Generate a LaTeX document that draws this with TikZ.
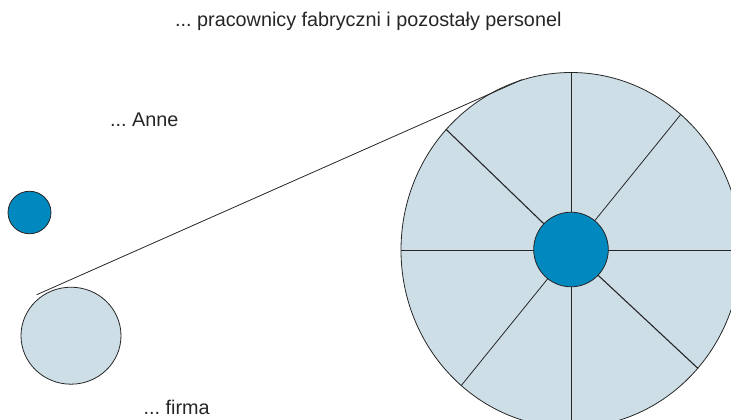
\documentclass[tikz,border=0pt]{standalone}
\usepackage{fontspec}
\setmainfont{Liberation Sans}
\usepackage{xcolor}
\usetikzlibrary{positioning, calc, shapes.geometric}
\definecolor{color0}{RGB}{0,137,191}
\definecolor{color1}{RGB}{206,222,231}
\frenchspacing

\begin{document}
\begin{tikzpicture}[x=1pt, y=-1pt]
	\tikzstyle{label}=[inner sep=0pt, anchor=base west, font=\fontsize{19.8}{23}\selectfont, text=black!85]
	\tikzstyle{disc}=[ellipse, draw=black!85, line width=0.8pt, inner sep=0pt]
	\tikzstyle{spoke}=[draw=black!85, line width=0.8pt]

	\useasboundingbox (0, 0) rectangle (731, 420);
	\clip (0, 0) rectangle (731, 420);

	\node[label] (title) at (175, 27) {... pracownicy fabryczni i pozostały personel};
	\node[label] (anne-label) at (110, 126) {... Anne};
	\node[label] (firma-label) at (143.5, 414) {... firma};

	\node[disc, fill=color0, minimum width=43pt, minimum height=42.5pt] (anne) at (29.5, 212.5) {};
	\node[disc, fill=color1, minimum width=100pt, minimum height=97pt] (firma) at (71, 335.7) {};

	\node[disc, fill=color1, minimum width=340pt, minimum height=355pt] (kolo) at (571, 250) {};
	\foreach \a/\w in {0/0.8, 51/0.8, 90/0.8, 136/1.1, 180/0.8, 231/0.8, 270/0.8, 317/1.1}{
		\draw[spoke, line width=\w pt] (kolo.center) -- (kolo.\a);
	}
	\node[disc, fill=color0, minimum size=74.6pt] (srodek) at (571, 249.5) {};

	\draw[spoke] ($(firma.center)!1.08!(firma.130)$) -- (kolo.106);
\end{tikzpicture}
\end{document}
